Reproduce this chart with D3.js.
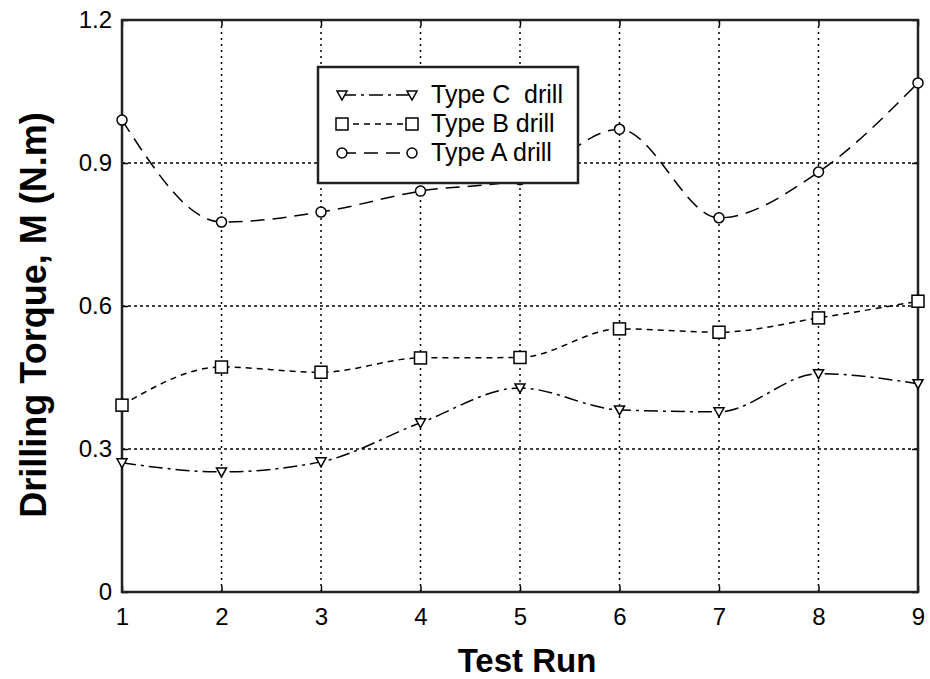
<!DOCTYPE html>
<html><head><meta charset="utf-8">
<script src="https://cdn.jsdelivr.net/npm/d3@7"></script>
<style>
html,body{margin:0;padding:0;background:#fff;}
svg text{font-family:"Liberation Sans",Arial,sans-serif;fill:#000;}
</style></head>
<body><svg id="chart" width="930" height="679"></svg>
<script>
const runs = [1,2,3,4,5,6,7,8,9];
const typeC = [0.271,0.252,0.273,0.355,0.428,0.382,0.378,0.458,0.437];
const typeB = [0.392,0.472,0.461,0.491,0.492,0.552,0.545,0.575,0.610];
const typeA = [0.990,0.776,0.797,0.841,0.865,0.971,0.785,0.881,1.068];
const yTicks = [0,0.3,0.6,0.9,1.2];
const yTickLabels = ["0","0.3","0.6","0.9","1.2"];
const xTicks = [1,2,3,4,5,6,7,8,9];
const seriesNames = ["Type C  drill","Type B drill","Type A drill"];

const svg = d3.select("#chart");
const L=122,R=918,T=20,B=592;
const x = d3.scaleLinear().domain([1,9]).range([L,R]);
const y = d3.scaleLinear().domain([0,1.2]).range([B,T]);

// grid
const g = svg.append("g");
g.selectAll(".vg").data(xTicks.slice(1,-1)).join("line")
 .attr("x1",d=>x(d)).attr("x2",d=>x(d)).attr("y1",T).attr("y2",B)
 .attr("stroke","#000").attr("stroke-width",1.5).attr("stroke-dasharray","2,4");
g.selectAll(".hg").data(yTicks.slice(1,-1)).join("line")
 .attr("x1",L).attr("x2",R).attr("y1",d=>y(d)).attr("y2",d=>y(d))
 .attr("stroke","#000").attr("stroke-width",1.5).attr("stroke-dasharray","3,3");

// axes
const xAxis = d3.axisBottom(x).tickValues(xTicks).tickSize(-6).tickPadding(16).tickFormat(d3.format("d"));
const yAxis = d3.axisLeft(y).tickValues(yTicks).tickSize(-6).tickPadding(10).tickFormat((d,i)=>yTickLabels[i]);
const xa = svg.append("g").attr("transform",`translate(0,${B})`).call(xAxis);
const ya = svg.append("g").attr("transform",`translate(${L},0)`).call(yAxis);
svg.append("g").attr("transform",`translate(0,${T})`).call(d3.axisTop(x).tickValues(xTicks).tickSize(-6).tickFormat(""));
svg.append("g").attr("transform",`translate(${R},0)`).call(d3.axisRight(y).tickValues(yTicks).tickSize(-6).tickFormat(""));
svg.selectAll(".domain").remove();
svg.selectAll(".tick line").attr("stroke","#000").attr("stroke-width",1.5);
[xa,ya].forEach(a=>a.selectAll("text").attr("font-size",24).attr("font-family","Liberation Sans, Arial, sans-serif").attr("fill","#111"));
svg.append("rect").attr("x",L).attr("y",T).attr("width",R-L).attr("height",B-T)
 .attr("fill","none").attr("stroke","#222").attr("stroke-width",2.5);

// markers
function marker(sel, type, cx, cy){
  if(type==="tri"){
    sel.append("path").attr("d",`M${cx-5},${cy-4}L${cx+5},${cy-4}L${cx},${cy+5}Z`)
      .attr("fill","#fff").attr("stroke","#000").attr("stroke-width",1.5);
  } else if(type==="sq"){
    sel.append("rect").attr("x",cx-6).attr("y",cy-6).attr("width",12).attr("height",12)
      .attr("fill","#fff").attr("stroke","#000").attr("stroke-width",1.5);
  } else {
    sel.append("circle").attr("cx",cx).attr("cy",cy).attr("r",5)
      .attr("fill","#fff").attr("stroke","#000").attr("stroke-width",1.5);
  }
}
const series = [
  {vals:typeC, dash:"14,5,3,5", m:"tri"},
  {vals:typeB, dash:"6,5", m:"sq"},
  {vals:typeA, dash:"14,8", m:"circ"}
];
const line = d3.line().x((d,i)=>x(runs[i])).y(d=>y(d)).curve(d3.curveMonotoneX);
const pg = svg.append("g");
series.forEach(s=>{
  pg.append("path").attr("d",line(s.vals)).attr("fill","none").attr("stroke","#000")
    .attr("stroke-width",1.5).attr("stroke-dasharray",s.dash);
  s.vals.forEach((v,i)=>marker(pg,s.m,x(runs[i]),y(v)));
});

// legend
const lg = svg.append("g");
lg.append("rect").attr("x",318).attr("y",67).attr("width",260).attr("height",116)
  .attr("fill","#fff").attr("stroke","#222").attr("stroke-width",2.5);
series.forEach((s,i)=>{
  const ly = 95 + i*29;
  lg.append("line").attr("x1",342).attr("x2",412).attr("y1",ly).attr("y2",ly)
    .attr("stroke","#000").attr("stroke-width",1.5).attr("stroke-dasharray",s.dash);
  marker(lg,s.m,342,ly); marker(lg,s.m,412,ly);
  lg.append("text").attr("x",431).attr("y",ly+8).attr("font-size",25).attr("fill","#1a1030")
    .attr("xml:space","preserve").style("white-space","pre").text(seriesNames[i]);
});

// titles
svg.append("text").attr("x",527).attr("y",672).attr("text-anchor","middle")
  .attr("font-family","Open Sans, sans-serif").attr("font-weight","bold").attr("font-size",33).text("Test Run");
svg.append("text").attr("transform","translate(46,315) rotate(-90)").attr("text-anchor","middle")
  .attr("font-family","Open Sans, sans-serif").attr("font-weight","bold").attr("font-size",36).text("Drilling Torque, M (N.m)");
</script></body></html>
